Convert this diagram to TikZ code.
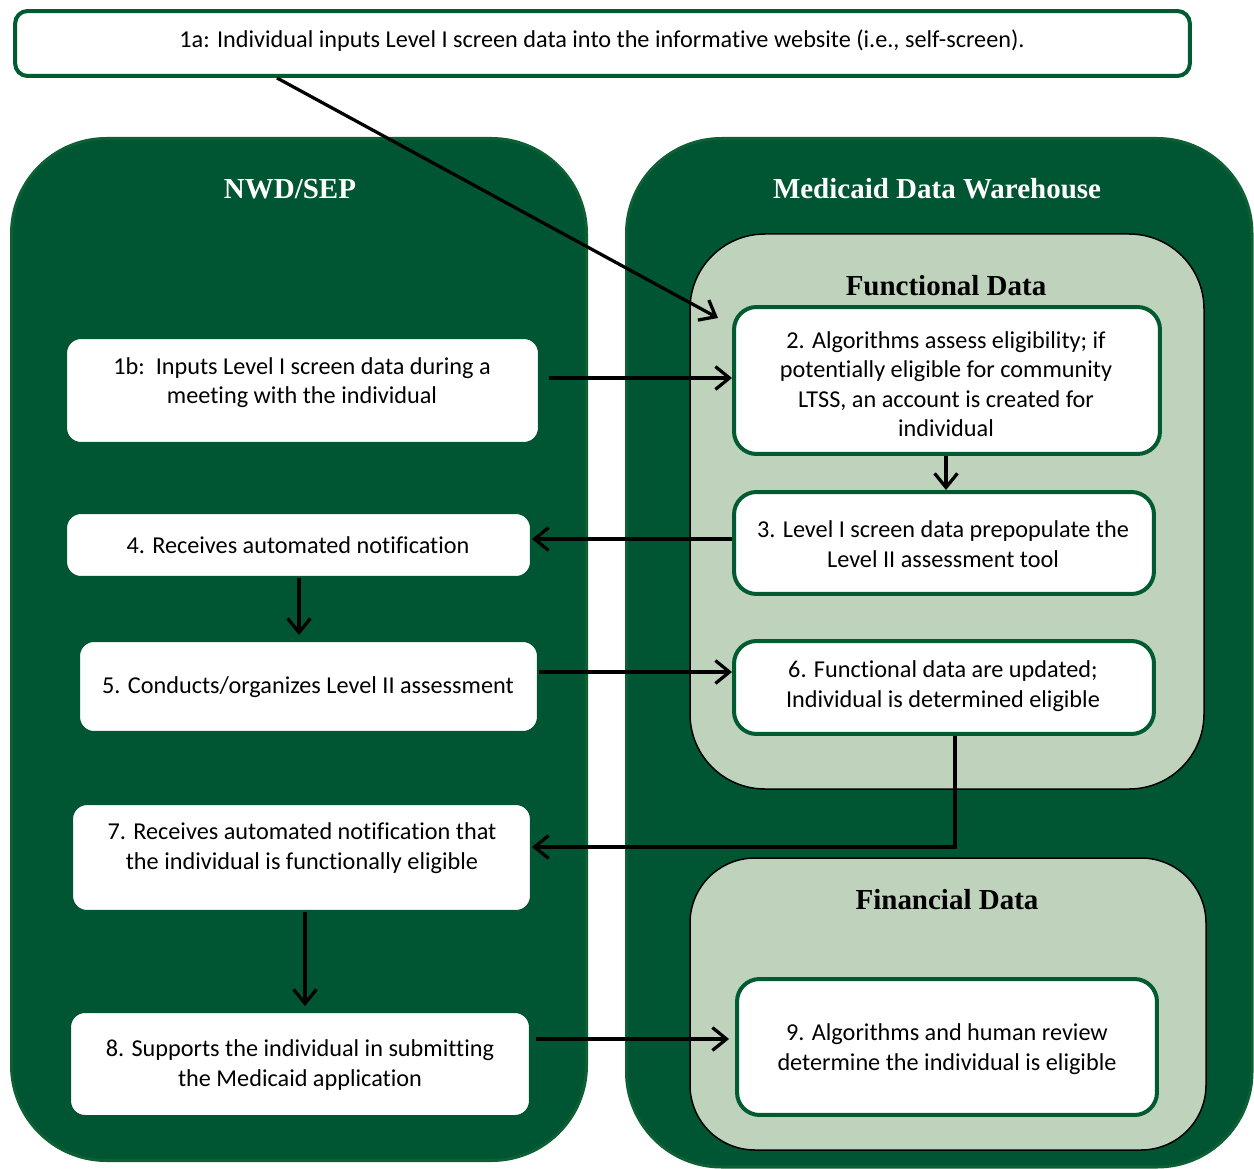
\documentclass[tikz,border=0pt]{standalone}
\usepackage{fontspec}
\setmainfont{Carlito}[Ligatures={NoCommon}]
\newfontfamily\headfont{Liberation Serif}
\usetikzlibrary{arrows.meta,calc}
\definecolor{dkgreen}{RGB}{0,85,51}
\definecolor{pborder}{RGB}{12,96,52}
\definecolor{bgreen}{RGB}{0,92,48}
\definecolor{ltgreen}{RGB}{190,210,188}
\begin{document}
\begin{tikzpicture}[x=0.02cm,y=-0.02cm,
  panel/.style={fill=dkgreen,draw=pborder,line width=0.06cm,rounded corners=1.9cm},
  subpanel/.style={fill=ltgreen,draw=black,line width=0.03cm,rounded corners=1.5cm},
  wbox/.style={rectangle,fill=white,draw=dkgreen,line width=0.04cm,rounded corners=0.3cm,inner sep=0pt},
  gbox/.style={rectangle,fill=white,draw=bgreen,line width=0.08cm,rounded corners=0.45cm,inner sep=0pt},
  txt/.style={align=center,font=\fontsize{13.8}{16.8}\selectfont,inner sep=0pt},
  head/.style={font=\headfont\bfseries\fontsize{16.5}{19}\selectfont},
  arr/.style={draw=black,line width=0.065cm,-{Straight Barb[length=8pt,width=13pt]}}
]
\useasboundingbox (0,0) rectangle (1254,1169);
% panels
\draw[panel] (11.5,138.5) rectangle (586.5,1160.5);
\draw[panel] (626.5,138.5) rectangle (1252,1167);
\draw[subpanel] (690,234) rectangle (1204,789);
\draw[subpanel,rounded corners=1.3cm] (690,858) rectangle (1206,1150);
\node[head,text=white] (hnwd) at (290,189) {NWD/SEP};
\node[head,text=white] (hmdw) at (937,189) {Medicaid Data Warehouse};
\node[head,text=black] (hfun) at (946,286) {Functional Data};
\node[head,text=black] (hfin) at (947,900) {Financial Data};
% top box
\node[gbox,draw=bgreen,line width=0.08cm,rounded corners=0.25cm,minimum width=23.5cm,minimum height=1.3cm] (b1a) at (602.5,43.5) {};
\node[txt] (t1a) at (602,41) {1a: Individual inputs Level I screen data into the informative website (i.e., self-screen).};
% left boxes
\node[wbox,minimum width=9.46cm,minimum height=2.1cm] (b1b) at (302.5,390.5) {};
\node[txt] (t1b) at (302,382.5) {1b:\ \ Inputs Level I screen data during a\\meeting with the individual};
\node[wbox,minimum width=9.3cm,minimum height=1.28cm] (b4) at (298.5,545) {};
\node[txt] (t4) at (298,545) {4. Receives automated notification};
\node[wbox,minimum width=9.18cm,minimum height=1.82cm] (b5) at (308.5,686.5) {};
\node[txt] (t5) at (308,687) {5. Conducts/organizes Level II assessment};
\node[wbox,minimum width=9.18cm,minimum height=2.14cm] (b7) at (301.5,857.5) {};
\node[txt] (t7) at (302,848) {7. Receives automated notification that\\the individual is functionally eligible};
\node[wbox,minimum width=9.2cm,minimum height=2.08cm] (b8) at (300,1064) {};
\node[txt] (t8) at (300,1065) {8. Supports the individual in submitting\\the Medicaid application};
% right boxes
\node[gbox,minimum width=8.52cm,minimum height=2.94cm] (b2) at (947,380.5) {};
\node[txt] (t2) at (946,384) {2. Algorithms assess eligibility; if\\potentially eligible for community\\LTSS, an account is created for\\individual};
\node[gbox,minimum width=8.4cm,minimum height=2.04cm] (b3) at (944,543) {};
\node[txt] (t3) at (943,544) {3. Level I screen data prepopulate the\\Level II assessment tool};
\node[gbox,minimum width=8.4cm,minimum height=1.86cm] (b6) at (944,687.5) {};
\node[txt] (t6) at (943,686) {6. Functional data are updated;\\Individual is determined eligible};
\node[gbox,minimum width=8.4cm,minimum height=2.72cm] (b9) at (947,1047) {};
\node[txt] (t9) at (947,1049) {9. Algorithms and human review\\determine the individual is eligible};
% connectors
\coordinate (a1end) at (718,318);
\draw[arr] (b1a.south -| 277,0) -- (a1end);
\draw[arr,shorten <=0.18cm] (b1b.east |- 0,378) -- (b2.west |- 0,378);
\draw[arr] (b2.south -| 946,0) -- (b3.north -| 946,0);
\draw[arr] (b3.west |- 0,539) -- (b4.east |- 0,539);
\draw[arr,shorten >=0.1cm] (b4.south -| 299,0) -- (b5.north -| 299,0);
\draw[arr] (b5.east |- 0,672) -- (b6.west |- 0,672);
\draw[arr] (b6.south -| 955,0) -- (955,847) -- (b7.east |- 0,847);
\draw[arr,shorten >=0.1cm] (b7.south -| 305,0) -- (b8.north -| 305,0);
\draw[arr,shorten <=0.1cm,shorten >=0.12cm] (b8.east |- 0,1039) -- (b9.west |- 0,1039);
\end{tikzpicture}
\end{document}
